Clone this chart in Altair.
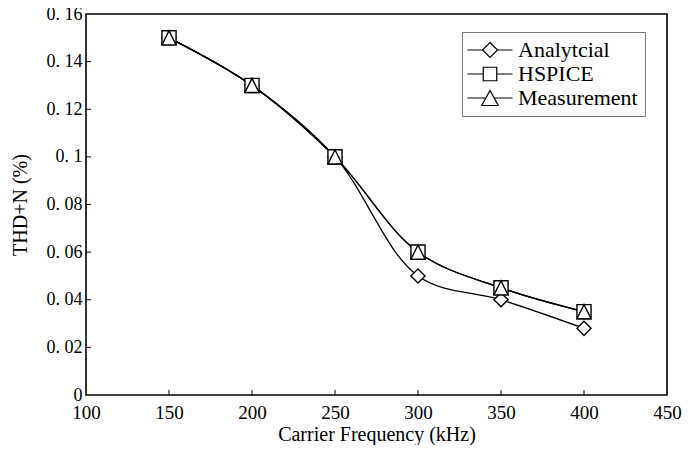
import altair as alt
import pandas as pd

freq = [150, 200, 250, 300, 350, 400]
analytical = [0.150, 0.130, 0.100, 0.050, 0.040, 0.028]
hspice = [0.150, 0.130, 0.100, 0.060, 0.045, 0.035]
measurement = [0.150, 0.130, 0.100, 0.060, 0.045, 0.035]
series_names = ["Analytcial", "HSPICE", "Measurement"]
x_ticks = [100, 150, 200, 250, 300, 350, 400, 450]
y_ticks = [0, 0.02, 0.04, 0.06, 0.08, 0.1, 0.12, 0.14, 0.16]
x_inner_ticks = [150, 200, 250, 300, 350, 400]
y_inner_ticks = [0.02, 0.04, 0.06, 0.08, 0.1, 0.12, 0.14]

rows = []
for k, (name, vals) in enumerate(zip(series_names, [analytical, hspice, measurement])):
    for f, v in zip(freq, vals):
        rows.append({"series": name, "freq": f, "thd": v, "order": k})
df = pd.DataFrame(rows)

FONT = "Liberation Serif"
W, H = 581, 381

xs = alt.Scale(domain=[100, 450], nice=False)
ys = alt.Scale(domain=[0, 0.16], nice=False)

x_axis = alt.Axis(
    values=x_ticks, title="Carrier Frequency (kHz)", grid=False, ticks=False,
    domain=False, labelFont=FONT, labelFontSize=19, labelColor="black",
    labelPadding=8, titleFont=FONT, titleFontSize=20, titleFontWeight="normal",
    titleColor="black", titlePadding=2, labelFlush=False, format="d")
y_axis = alt.Axis(
    values=y_ticks, title="THD+N (%)", grid=False, ticks=False, domain=False,
    labelFont=FONT, labelFontSize=18, labelColor="black", labelPadding=4,
    labelExpr="replace(format(datum.value, ''), '.', '. ')", labelFlush=False,
    titleFont=FONT, titleFontSize=20, titleFontWeight="normal",
    titleColor="black", titlePadding=16)

def X(field):
    return alt.X(field, scale=xs, axis=x_axis)

def Y(field):
    return alt.Y(field, scale=ys, axis=y_axis)

base = alt.Chart(df)

lines = base.mark_line(color="black", strokeWidth=1.3, interpolate="catmull-rom").encode(
    x=X("freq:Q"), y=Y("thd:Q"), detail="series:N")

tri_path = "M0,-1L1,1L-1,1Z"
pts = base.mark_point(filled=False, fill="white", fillOpacity=1, stroke="black",
                      strokeWidth=1.4, size=200, opacity=1).encode(
    x=X("freq:Q"), y=Y("thd:Q"),
    shape=alt.Shape("series:N", scale=alt.Scale(domain=series_names,
                    range=["diamond", "square", tri_path]), legend=None),
    order=alt.Order("order:Q"))

legend_paths = [
    "M-3,0H-1M1,0H3M0,-1L1,0L0,1L-1,0Z",
    "M-3,0H-0.9M0.9,0H3M-0.9,-0.9H0.9V0.9H-0.9Z",
    "M-3,0H-0.6M0.6,0H3M0,-1L1.1,1L-1.1,1Z",
]
leg = base.mark_point(opacity=0).encode(
    x=X("freq:Q"), y=Y("thd:Q"),
    shape=alt.Shape("series:N", scale=alt.Scale(domain=series_names, range=legend_paths),
                    legend=alt.Legend(title=None, orient="none", legendX=376, legendY=18,
                                      symbolSize=225, symbolOpacity=1,
                                      symbolFillColor="white", symbolStrokeColor="black",
                                      symbolStrokeWidth=1.2, symbolOffset=10,
                                      labelFont=FONT, labelFontSize=22, labelColor="black",
                                      fillColor="white", strokeColor="#777777",
                                      padding=7, rowPadding=2, labelOffset=17,
                                      labelLimit=300)))

xt = pd.DataFrame({"freq": x_inner_ticks})
yt = pd.DataFrame({"thd": y_inner_ticks})
xtick = alt.Chart(xt).mark_rule(color="black", strokeWidth=1).encode(
    x=X("freq:Q"), y=alt.value(H), y2=alt.value(H - 5))
ytick = alt.Chart(yt).mark_rule(color="black", strokeWidth=1).encode(
    y=Y("thd:Q"), x=alt.value(0), x2=alt.value(5))

chart = alt.layer(lines, pts, leg, xtick, ytick).resolve_scale(shape="independent").properties(
    width=W, height=H,
    background="white",
    autosize=alt.AutoSizeParams(type="none"),
    padding={"left": 78, "top": 6, "right": 20, "bottom": 50},
).configure_view(stroke="black", strokeWidth=1.6)

chart.save("out.html", embed_options={"renderer": "svg", "actions": False})
